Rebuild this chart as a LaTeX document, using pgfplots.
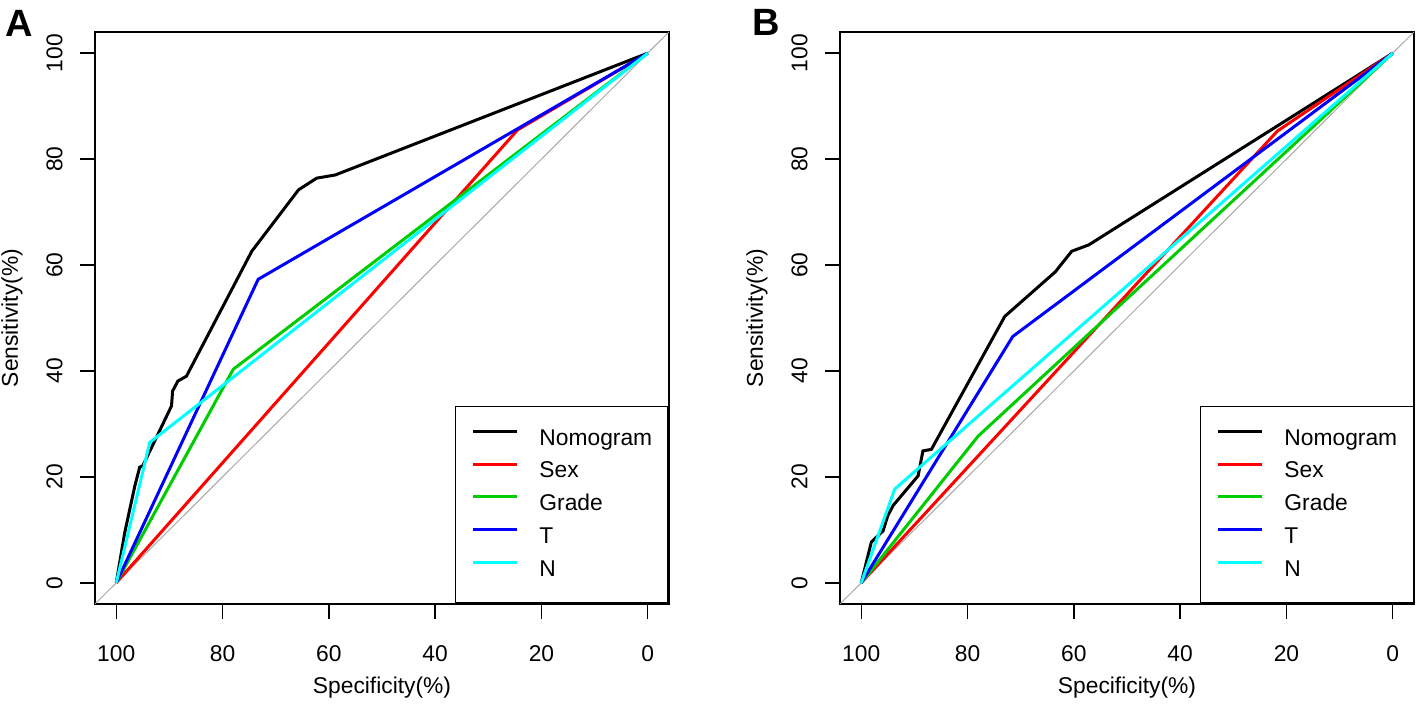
\documentclass[border=0pt]{standalone}
\usepackage{fontspec}
\setmainfont{Liberation Sans}
\usepackage{pgfplots}
\pgfplotsset{compat=1.18}
\definecolor{rgreen}{HTML}{00CD00}
\definecolor{rgrey}{HTML}{A8A8A8}
\definecolor{rcyan}{HTML}{00FFFF}
\definecolor{rred}{HTML}{FF0000}
\definecolor{rblue}{HTML}{0000FF}
\pgfplotsset{
 rocstyle/.style={
  scale only axis, width=287pt, height=286pt,
  xmin=-4,xmax=104,ymin=-4,ymax=104, x dir=reverse,
  xtick={0,20,...,100}, ytick={0,20,...,100},
  tick pos=left, tick align=outside, major tick length=7.5pt,
  axis line style={line width=0.75pt},
  every tick/.style={black, line width=0.75pt},
  /pgf/number format/assume math mode=true,
  tick label style={font=\fontsize{11.4}{13.7}\selectfont},
  xticklabel style={anchor=north, inner sep=0pt},
  xticklabel shift=12.9pt,
  yticklabel style={rotate=90, anchor=south, inner sep=0pt},
  yticklabel shift=8.5pt,
  xlabel={Specificity(\%)}, ylabel={Sensitivity(\%)},
  every axis x label/.style={at={(axis description cs:0.5,-0.1469)}, anchor=center, font=\fontsize{11.4}{13.7}\selectfont},
  every axis y label/.style={at={(axis description cs:-0.1446,0.5)}, rotate=90, anchor=center, font=\fontsize{11.4}{13.7}\selectfont},
  legend cell align=left,
  legend style={at={(axis description cs:1,0)}, anchor=south east, draw=black,
    line width=0.75pt, fill=white, inner xsep=8pt, inner ysep=11.2pt,
    row sep=5.75pt, column sep=10.5pt,
    font=\fontsize{11.4}{13.7}\selectfont,
    nodes={inner sep=0pt, text height=8.2pt, text depth=2.4pt}},
  legend image code/.code={\draw[#1] (0pt,4pt) -- (22pt,4pt);},
  every axis plot/.append style={line width=1.5pt},
 }
}
\begin{document}
\begin{tikzpicture}
\useasboundingbox (0,0) rectangle (709pt,352pt);
\begin{axis}[rocstyle, at={(47.5pt,50pt)}, anchor=south west]
\addplot[rgrey, line width=0.5pt, forget plot] coordinates {(104,-4) (-4,104)};
\addplot[black] coordinates {(100,0) (98.4,9.5) (96.5,18.3) (95.6,21.8) (95.0,22.1) (89.6,33.4) (89.4,36.2) (88.4,38.1) (86.8,39.0) (74.5,62.6) (65.7,74.2) (62.3,76.4) (58.8,77.0) (0,100)};
\addplot[rred] coordinates {(100,0) (24.5,85.5) (0,100)};
\addplot[rgreen] coordinates {(100,0) (78.0,40.3) (0,100)};
\addplot[rblue] coordinates {(100,0) (73.3,57.3) (0,100)};
\addplot[rcyan] coordinates {(100,0) (93.7,26.5) (0,100)};
\legend{Nomogram,Sex,Grade,T,N}
\end{axis}
\begin{axis}[rocstyle, at={(420pt,50pt)}, anchor=south west]
\addplot[rgrey, line width=0.5pt, forget plot] coordinates {(104,-4) (-4,104)};
\addplot[black] coordinates {(100,0) (98.1,7.7) (95.9,9.8) (95.0,12.7) (94.0,14.6) (89.3,20.2) (88.4,24.9) (86.8,25.2) (73.0,50.3) (63.5,58.7) (60.4,62.6) (57.2,63.8) (0,100)};
\addplot[rred] coordinates {(100,0) (21.7,85.3) (0,100)};
\addplot[rgreen] coordinates {(100,0) (78.0,27.7) (0,100)};
\addplot[rblue] coordinates {(100,0) (71.5,46.5) (0,100)};
\addplot[rcyan] coordinates {(100,0) (93.7,17.7) (0,100)};
\legend{Nomogram,Sex,Grade,T,N}
\end{axis}
\node[font=\fontsize{19}{22}\selectfont\bfseries, anchor=center] at (9.75pt,340.25pt) {A};
\node[font=\fontsize{19}{22}\selectfont\bfseries, anchor=center] at (383pt,340.75pt) {B};
\end{tikzpicture}
\end{document}
